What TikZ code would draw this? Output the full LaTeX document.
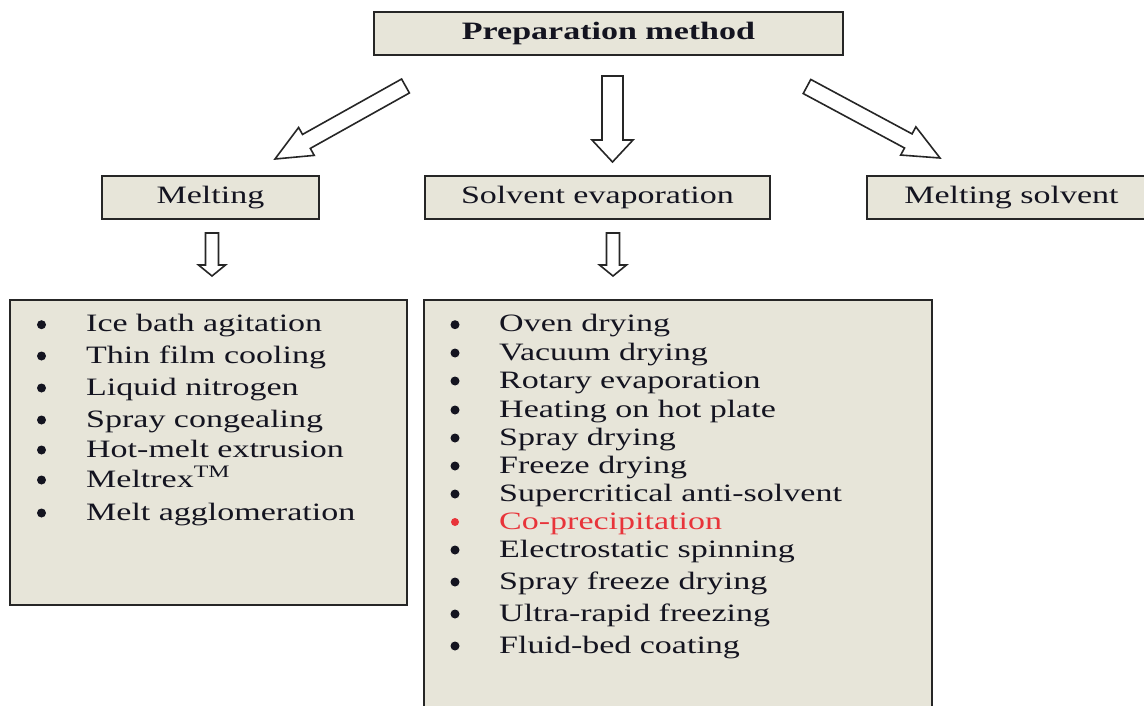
\documentclass[tikz,border=0pt]{standalone}
\usepackage{fontspec}
\setmainfont{Liberation Serif}[FakeStretch=1.36]
\usetikzlibrary{calc}
\definecolor{boxfill}{RGB}{231,229,217}
\definecolor{ink}{RGB}{20,20,32}
\definecolor{redtxt}{RGB}{232,52,58}
\newcommand{\blockarr}[5]{%
  \path ($(#2)!#5!(#1)$) coordinate (bb);
  \draw[barrow] ($(#1)!#3!90:(#2)$) -- ($(bb)!#3!90:(#2)$) -- ($(bb)!#4!90:(#2)$) -- (#2)
    -- ($(bb)!#4!-90:(#2)$) -- ($(bb)!#3!-90:(#2)$) -- ($(#1)!#3!-90:(#2)$) -- cycle;}
\begin{document}
\begin{tikzpicture}[x={(1pt,0)}, y={(0,-1pt)},
  box/.style={draw=black!85, line width=1.8pt, fill=boxfill, inner sep=0pt},
  lbl/.style={font=\fontsize{25}{30}\selectfont, text=ink, inner sep=0pt},
  item/.style={lbl, anchor=base west},
  dot/.style={circle, fill=ink, inner sep=0pt, minimum size=9pt},
  reddot/.style={dot, fill=redtxt, minimum size=8pt},
  barrow/.style={draw=black!85, line width=1.6pt, fill=white, line join=miter}]
\useasboundingbox (0,0) rectangle (1144,706);
\begin{scope}
\clip (0,0) rectangle (1144,706);
% boxes
\node[box, lbl, minimum width=469pt, minimum height=43pt] (prep) at (608.5,33.5) {\textbf{Preparation method}};
\node[box, lbl, minimum width=217pt, minimum height=43pt] (melt) at (210.5,197.5) {Melting};
\node[box, lbl, minimum width=345pt, minimum height=43pt] (solv) at (597.5,197.5) {Solvent evaporation};
\node[box, lbl, minimum width=289pt, minimum height=43pt] (msolv) at (1011.5,197.5) {Melting solvent};
\node[box, minimum width=397pt, minimum height=305pt] (lbox) at (208.5,452.5) {};
\node[box, minimum width=508pt, minimum height=420pt] (rbox) at (678,510) {};
% arrows
\coordinate (a1s) at (405.5,86);  \coordinate (a1t) at (275,159);
\coordinate (a2s) at (612.5,76);  \coordinate (a2t) at (612.5,162);
\coordinate (a3s) at (807,86.5);  \coordinate (a3t) at (940,158);
\coordinate (a4s) at (212,233);   \coordinate (a4t) at (212,276);
\coordinate (a5s) at (613,233);   \coordinate (a5t) at (613,276);
\blockarr{a1s}{a1t}{8pt}{16pt}{36pt}
\blockarr{a2s}{a2t}{10.5pt}{20.5pt}{22pt}
\blockarr{a3s}{a3t}{8pt}{16pt}{36pt}
\blockarr{a4s}{a4t}{6.5pt}{13.5pt}{11pt}
\blockarr{a5s}{a5t}{6.5pt}{13.5pt}{11pt}
% left list
\foreach \y/\t [count=\i] in {331.7/Ice bath agitation, 363/Thin film cooling, 395/Liquid nitrogen,
  427/Spray congealing, 457/Hot-melt extrusion, 487/{Meltrex\textsuperscript{TM}}, 520/Melt agglomeration}{
  \node[dot] (ld\i) at (41.5,\y-7) {};
  \node[item] (lt\i) at (86,\y) {\t};
}
% right list
\foreach \y/\t [count=\i] in {331.7/Oven drying, 360/Vacuum drying, 388/Rotary evaporation,
  417/Heating on hot plate, 445/Spray drying, 473/Freeze drying, 501/Supercritical anti-solvent}{
  \node[dot] (rd\i) at (455,\y-7) {};
  \node[item] (rt\i) at (499,\y) {\t};
}
\node[reddot] (rd8) at (455,522) {};
\node[item, text=redtxt] (rt8) at (499,529) {Co-precipitation};
\foreach \y/\t [count=\i from 9] in {557/Electrostatic spinning, 589/Spray freeze drying,
  621/Ultra-rapid freezing, 653/Fluid-bed coating}{
  \node[dot] (rd\i) at (455,\y-7) {};
  \node[item] (rt\i) at (499,\y) {\t};
}
\end{scope}
\end{tikzpicture}
\end{document}
